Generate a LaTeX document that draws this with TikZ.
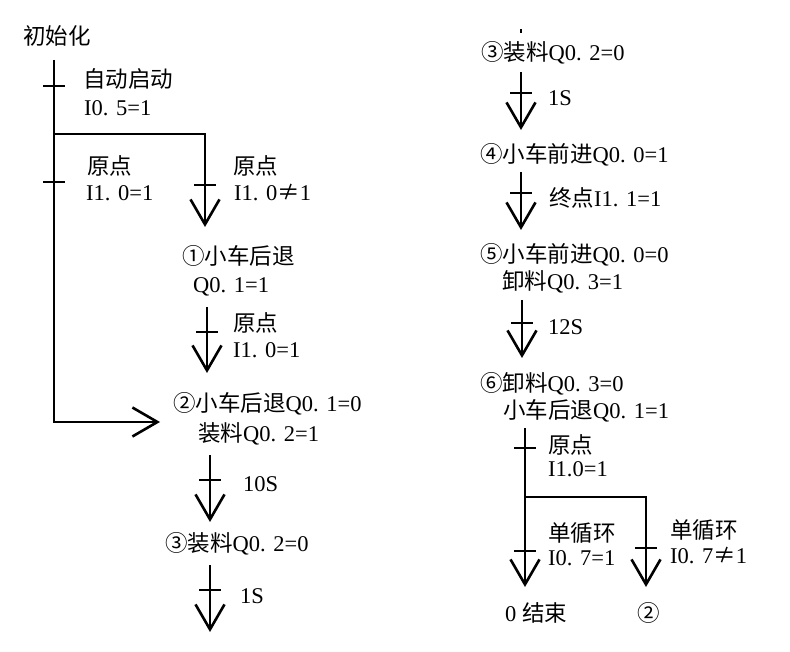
\documentclass[tikz,border=0pt]{standalone}
\usepackage{fontspec}
\setmainfont{Liberation Serif}
\newfontfamily\cjk{Noto Sans CJK SC}
\usetikzlibrary{arrows.meta}
\begin{document}
\begin{tikzpicture}[x=1pt,y=-1pt,
  flow/.style={line width=2.6pt},
  arr/.style={flow,-{Straight Barb[length=25pt,width=29pt]}},
  lbl/.style={anchor=base west,inner sep=0pt,font=\fontsize{22.5}{26}\selectfont},
  ]
\useasboundingbox[fill=white] (0,0) rectangle (790,652);
% ---------- coordinates (left column)
\coordinate (m0) at (54,60);
\coordinate (m1) at (54,422);
\coordinate (s2in) at (160,422);
\coordinate (ta) at (54,86);
\coordinate (tb) at (54,182);
\coordinate (br0) at (54,134);
\coordinate (br1) at (205,134);
\coordinate (s1in) at (205,227);
\coordinate (tc) at (205,185);
\coordinate (a1s) at (207,307);
\coordinate (a1e) at (207,373);
\coordinate (td) at (207,332);
\coordinate (a2s) at (210,455);
\coordinate (a2e) at (210,522);
\coordinate (te) at (210,480);
\coordinate (a3s) at (210,565);
\coordinate (a3e) at (210,632);
\coordinate (tf) at (210,590);
% ---------- coordinates (right column)
\coordinate (r0s) at (521,29);
\coordinate (r0e) at (521,33);
\coordinate (r1s) at (521,72);
\coordinate (r1e) at (521,130);
\coordinate (tg) at (521,93);
\coordinate (r2s) at (521,172);
\coordinate (r2e) at (521,230);
\coordinate (th) at (521,193);
\coordinate (r3s) at (522,300);
\coordinate (r3e) at (522,358);
\coordinate (ti) at (522,323);
\coordinate (r4s) at (525,428);
\coordinate (r4e) at (525,587);
\coordinate (tj) at (525,448);
\coordinate (tk) at (525,551);
\coordinate (rb0) at (525,497);
\coordinate (rb1) at (646,497);
\coordinate (r5e) at (646,587);
\coordinate (tl) at (646,548);
% ---------- texts (left)
\node[lbl] (init) at (23,45) {\cjk 初始化};
\node[lbl] (c1a) at (83,88) {\cjk 自动启动};
\node[lbl] (c1b) at (84,116) {I0. 5=1};
\node[lbl] (c2a) at (87,175) {\cjk 原点};
\node[lbl] (c2b) at (86,201) {I1. 0=1};
\node[lbl] (c3a) at (233,175) {\cjk 原点};
\node[lbl] (c3b) at (234,201) {I1. 0{\cjk ≠}1};
\node[lbl] (s1a) at (182,265) {\cjk ①小车后退};
\node[lbl] (s1b) at (193,293) {Q0. 1=1};
\node[lbl] (c4a) at (233,331) {\cjk 原点};
\node[lbl] (c4b) at (233,358) {I1. 0=1};
\node[lbl] (s2a) at (173,411) {{\cjk ②小车后退}Q0. 1=0};
\node[lbl] (s2b) at (198,441) {{\cjk 装料}Q0. 2=1};
\node[lbl] (c5) at (243,491) {10S};
\node[lbl] (s3) at (165,551) {{\cjk ③装料}Q0. 2=0};
\node[lbl] (c6) at (240,603) {1S};
% ---------- texts (right)
\node[lbl] (s3r) at (481,61) {{\cjk ③装料}Q0. 2=0};
\node[lbl] (c7) at (548,106) {1S};
\node[lbl] (s4) at (480,163) {{\cjk ④小车前进}Q0. 0=1};
\node[lbl] (c8) at (549,207) {{\cjk 终点}I1. 1=1};
\node[lbl] (s5a) at (480,263) {{\cjk ⑤小车前进}Q0. 0=0};
\node[lbl] (s5b) at (502,290) {{\cjk 卸料}Q0. 3=1};
\node[lbl] (c9) at (548,335) {12S};
\node[lbl] (s6a) at (480,391) {{\cjk ⑥卸料}Q0. 3=0};
\node[lbl] (s6b) at (503,418) {{\cjk 小车后退}Q0. 1=1};
\node[lbl] (c10a) at (548,453) {\cjk 原点};
\node[lbl] (c10b) at (548,476) {I1.0=1};
\node[lbl] (c11a) at (548,541) {\cjk 单循环};
\node[lbl] (c11b) at (548,565) {I0. 7=1};
\node[lbl] (c12a) at (670,538) {\cjk 单循环};
\node[lbl] (c12b) at (670,563) {I0. 7{\cjk ≠}1};
\node[lbl] (end) at (505,621) {0 {\cjk 结束}};
\node[lbl] (s2r) at (637,621) {\cjk ②};
% ---------- connectors (left)
\draw[arr] (m0) -- (m1) -- (s2in);
\draw[arr] (br0) -- (br1) -- (s1in);
\draw[arr] (a1s) -- (a1e);
\draw[arr] (a2s) -- (a2e);
\draw[arr] (a3s) -- (a3e);
% ---------- connectors (right)
\draw[flow,line width=2pt] (r0s) -- (r0e);
\draw[arr] (r1s) -- (r1e);
\draw[arr] (r2s) -- (r2e);
\draw[arr] (r3s) -- (r3e);
\draw[arr] (r4s) -- (r4e);
\draw[arr] (rb0) -- (rb1) -- (r5e);
% ---------- transition ticks
\foreach \t in {ta,tb,tc,td,te,tf,tg,th,ti,tj,tk,tl}
  \draw[flow] (\t) +(-11,0) -- +(11,0);
\end{tikzpicture}
\end{document}
